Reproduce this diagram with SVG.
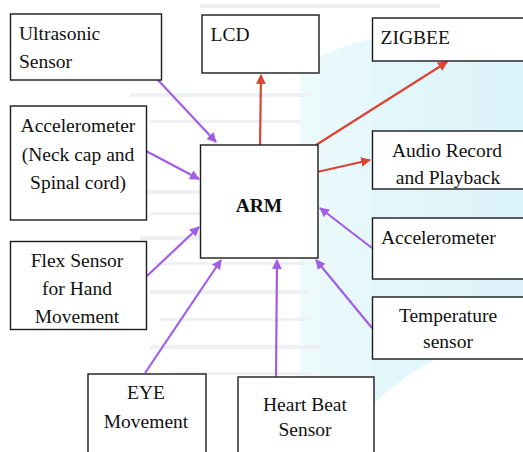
<svg xmlns="http://www.w3.org/2000/svg" width="523" height="452" viewBox="0 0 523 452">
<style>
text{font-family:"Liberation Serif","Times New Roman","DejaVu Serif",serif !important}
.box{fill:#fff;stroke:#1a1a1a;stroke-width:1.4}
.t{font-size:19.5px;fill:#111}
.c{text-anchor:middle}
.b{font-weight:bold}
.in{stroke:#a25de6;stroke-width:2.2;fill:none;marker-end:url(#hp)}
.out{stroke:#dd4433;stroke-width:2.2;fill:none;marker-end:url(#hr)}
.stripe{fill:#eef1f4}
</style>
<defs>
<marker id="hp" viewBox="0 0 10 10" refX="9" refY="5" markerWidth="4.5" markerHeight="4.5" orient="auto" markerUnits="strokeWidth"><path d="M0,0 L10,5 L0,10 z" fill="#a25de6"/></marker>
<marker id="hr" viewBox="0 0 10 10" refX="9" refY="5" markerWidth="4.5" markerHeight="4.5" orient="auto" markerUnits="strokeWidth"><path d="M0,0 L10,5 L0,10 z" fill="#dd4433"/></marker>
<linearGradient id="cy" x1="0" y1="0" x2="1" y2="0"><stop offset="0" stop-color="#eefafc"/><stop offset="0.4" stop-color="#e2f7fb"/><stop offset="1" stop-color="#dcf3f9"/></linearGradient>
</defs>
<rect width="523" height="452" fill="#fff"/>
<g id="watermark">
<path d="M300,70 C330,40 420,25 523,30 L523,330 C440,345 370,390 340,452 L300,452 Z" fill="url(#cy)"/>
<g>
<rect class="stripe" x="130" y="93" width="180" height="4"/>
<rect class="stripe" x="150" y="120" width="150" height="3"/>
<rect class="stripe" x="145" y="190" width="160" height="4"/>
<rect class="stripe" x="150" y="212" width="150" height="3"/>
<rect class="stripe" x="140" y="236" width="170" height="4"/>
<rect class="stripe" x="155" y="262" width="150" height="3"/>
<rect class="stripe" x="150" y="290" width="160" height="4"/>
<rect class="stripe" x="160" y="318" width="150" height="3"/>
<rect class="stripe" x="150" y="345" width="170" height="4"/>
<rect class="stripe" x="170" y="372" width="140" height="3"/>
<rect class="stripe" x="200" y="4" width="240" height="4"/>
</g>
</g>
<g id="connectors">
<line class="in" x1="157" y1="79" x2="216" y2="142"/>
<line class="in" x1="146" y1="151" x2="199" y2="179"/>
<line class="in" x1="147" y1="276" x2="199" y2="227"/>
<line class="in" x1="145" y1="373" x2="221" y2="260"/>
<line class="in" x1="276" y1="377" x2="277" y2="260"/>
<line class="in" x1="372" y1="328" x2="316" y2="260"/>
<line class="in" x1="372" y1="248" x2="320" y2="208"/>
<line class="out" x1="260" y1="145" x2="261" y2="75"/>
<line class="out" x1="316" y1="145" x2="447" y2="62"/>
<line class="out" x1="317" y1="172" x2="370" y2="160"/>
</g>
<g font-family="'Liberation Serif', 'DejaVu Serif', serif">
<g id="arm"><rect class="box" x="200.5" y="145" width="117.5" height="113"/><text class="t c b" x="259" y="212">ARM</text></g>
<g id="ultrasonic"><rect class="box" x="10.5" y="14" width="151" height="66"/><text class="t" x="19" y="40">Ultrasonic</text><text class="t" x="19" y="68">Sensor</text></g>
<g id="lcd"><rect class="box" x="202" y="15" width="117" height="58"/><text class="t" x="210.5" y="41">LCD</text></g>
<g id="zigbee"><rect class="box" x="372.5" y="18" width="160" height="43"/><text class="t" x="380.5" y="44">ZIGBEE</text></g>
<g id="accel-neck"><rect class="box" x="10.5" y="106" width="136" height="114"/><text class="t c" x="78" y="132">Accelerometer</text><text class="t c" x="78" y="161">(Neck cap and</text><text class="t c" x="78" y="189">Spinal cord)</text></g>
<g id="audio"><rect class="box" x="372.5" y="131" width="160" height="58"/><text class="t c" x="447" y="157">Audio Record</text><text class="t c" x="448" y="184">and Playback</text></g>
<g id="flex"><rect class="box" x="10.5" y="241.5" width="136" height="88"/><text class="t c" x="77" y="267">Flex Sensor</text><text class="t c" x="77" y="295">for Hand</text><text class="t c" x="77" y="323">Movement</text></g>
<g id="accel-right"><rect class="box" x="372.5" y="218" width="160" height="61"/><text class="t" x="381" y="244">Accelerometer</text></g>
<g id="temp"><rect class="box" x="372.5" y="297" width="160" height="62"/><text class="t c" x="448" y="322">Temperature</text><text class="t c" x="448" y="348">sensor</text></g>
<g id="eye"><rect class="box" x="88" y="374" width="118" height="90"/><text class="t c" x="146" y="399">EYE</text><text class="t c" x="146" y="428">Movement</text></g>
<g id="heart"><rect class="box" x="238" y="377" width="136" height="90"/><text class="t c" x="305" y="411">Heart Beat</text><text class="t c" x="305" y="436">Sensor</text></g>
</g>
</svg>
